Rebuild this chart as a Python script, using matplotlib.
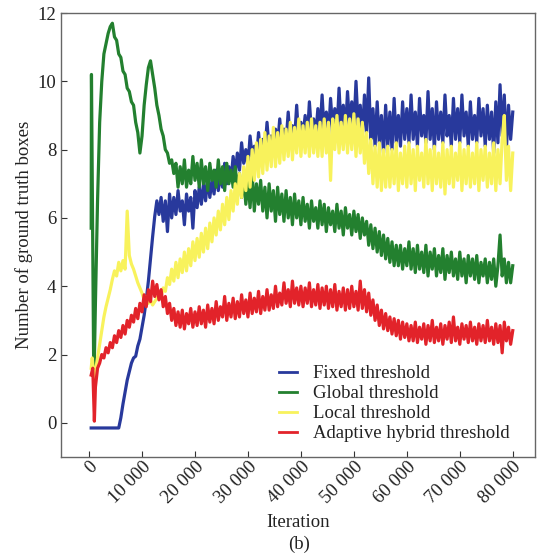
import matplotlib
matplotlib.use("Agg")
import matplotlib.pyplot as plt

# ---------------- data ----------------
grid = list(range(400, 80001, 400))  # iterations, 200 samples

series_names = ["Fixed threshold", "Global threshold", "Local threshold",
                "Adaptive hybrid threshold"]
series_colors = ["#28399c", "#23802f", "#f8f25c", "#e2232a"]

fixed_vals = [
    -0.15, -0.15, -0.15, -0.15, -0.15, -0.15, -0.15, -0.15, -0.15, -0.15,
    -0.15, -0.15, -0.15, -0.15, 0.15, 0.55, 0.9, 1.25, 1.5, 1.75,
    1.9, 1.95, 2.25, 2.45, 2.8, 3.15, 3.6, 4.15, 4.8, 5.45,
    6.05, 6.5, 6.1, 6.6, 5.9, 6.5, 5.6, 6.7, 6.0, 6.6,
    6.1, 6.8, 6.2, 6.5, 5.8, 6.7, 6.2, 6.6, 5.7, 6.8,
    6.3, 6.9, 6.4, 7.0, 6.5, 7.2, 6.6, 7.1, 6.7, 7.4,
    6.8, 7.3, 6.9, 7.6, 7.0, 7.5, 7.1, 7.8, 7.3, 7.9,
    7.4, 8.2, 7.6, 8.0, 7.5, 8.4, 7.8, 8.1, 7.7, 8.5,
    7.8, 8.3, 7.9, 8.8, 8.0, 8.4, 7.9, 8.6, 8.1, 8.9,
    8.1, 8.6, 8.2, 9.1, 8.2, 8.7, 8.3, 9.3, 8.2, 8.8,
    8.4, 9.0, 8.3, 9.4, 8.5, 8.9, 8.4, 9.2, 8.5, 9.6,
    8.5, 9.1, 8.4, 9.5, 8.6, 9.2, 8.5, 9.8, 8.6, 9.3,
    8.5, 9.7, 8.7, 9.4, 8.6, 10.0, 8.7, 9.3, 8.4, 9.6,
    8.5, 10.1, 8.3, 9.2, 8.1, 9.4, 8.2, 9.0, 7.9, 9.3,
    8.1, 9.1, 8.0, 9.5, 8.2, 9.0, 8.1, 9.4, 8.3, 9.2,
    8.2, 9.6, 8.3, 9.1, 8.1, 9.5, 8.4, 9.0, 8.2, 9.7,
    8.3, 9.2, 8.0, 9.4, 8.3, 9.1, 8.2, 9.6, 8.4, 9.0,
    8.1, 9.5, 8.3, 9.2, 8.2, 9.6, 8.4, 9.1, 8.1, 9.4,
    8.3, 9.0, 8.2, 9.5, 8.4, 9.2, 8.1, 9.3, 8.3, 9.1,
    7.9, 9.4, 8.2, 9.9, 8.4, 9.6, 8.0, 9.3, 8.3, 9.1,
]

global_head_x = [400, 450, 900]
global_head_y = [5.7, 10.2, 1.0]
global_vals = [
    3.5, 6.5, 8.8, 10.0, 10.8, 11.1, 11.4, 11.6,
    11.7, 11.3, 11.2, 10.8, 10.7, 10.3, 10.2, 9.8, 9.7, 9.4,
    9.3, 8.8, 8.5, 7.9, 8.4, 9.3, 9.9, 10.4, 10.6, 10.2,
    9.8, 9.3, 9.0, 8.6, 8.4, 8.0, 7.9, 7.6, 7.7, 7.3,
    7.6, 6.9, 7.5, 7.0, 7.7, 6.9, 7.4, 7.0, 7.8, 7.1,
    7.6, 6.9, 7.7, 7.0, 7.5, 6.8, 7.6, 7.1, 7.4, 6.9,
    7.7, 7.0, 7.5, 6.8, 7.6, 7.0, 7.4, 6.9, 7.5, 6.8,
    7.3, 6.6, 7.2, 6.4, 7.1, 6.3, 7.3, 6.2, 7.0, 6.4,
    7.1, 6.2, 6.9, 6.0, 7.0, 6.2, 6.8, 5.9, 6.9, 6.1,
    6.7, 5.9, 6.8, 6.0, 6.6, 5.8, 6.7, 6.0, 6.5, 5.8,
    6.6, 5.9, 6.4, 5.7, 6.5, 5.9, 6.3, 5.7, 6.5, 5.8,
    6.4, 5.6, 6.3, 5.8, 6.2, 5.6, 6.4, 5.7, 6.2, 5.5,
    6.3, 5.7, 6.1, 5.5, 6.2, 5.6, 6.1, 5.4, 6.0, 5.5,
    5.9, 5.2, 5.8, 5.1, 5.7, 5.0, 5.6, 4.9, 5.5, 4.8,
    5.4, 4.7, 5.3, 4.6, 5.2, 4.6, 5.2, 4.5, 5.1, 4.6,
    5.3, 4.5, 5.1, 4.4, 5.2, 4.5, 5.0, 4.4, 5.2, 4.3,
    5.0, 4.5, 5.1, 4.3, 4.9, 4.4, 5.1, 4.2, 4.9, 4.4,
    5.0, 4.3, 4.8, 4.2, 5.0, 4.3, 4.8, 4.1, 4.9, 4.3,
    4.8, 4.2, 4.9, 4.1, 4.7, 4.3, 4.8, 4.1, 4.7, 4.2,
    4.8, 4.0, 4.6, 5.5, 4.3, 4.8, 4.1, 4.7, 4.1, 4.6,
]

local_head_x = [400, 600, 1000]
local_head_y = [1.6, 1.9, 1.15]
local_vals = [
    1.5, 1.9, 2.3, 2.7, 3.1, 3.4, 3.65, 3.9,
    4.2, 4.45, 4.3, 4.7, 4.45, 4.75, 4.5, 6.2, 4.9, 4.65,
    4.5, 4.3, 4.1, 3.95, 3.8, 3.6, 3.7, 3.5, 3.6, 3.45,
    3.55, 3.65, 3.75, 3.7, 3.95, 3.85, 4.25, 4.05, 4.5, 4.15,
    4.7, 4.25, 4.8, 4.4, 5.0, 4.45, 5.1, 4.6, 5.3, 4.75,
    5.4, 4.85, 5.55, 5.0, 5.7, 5.1, 5.85, 5.3, 6.0, 5.5,
    6.2, 5.65, 6.4, 5.8, 6.6, 5.95, 6.8, 6.2, 7.0, 6.4,
    7.3, 6.6, 7.5, 6.8, 7.8, 6.9, 8.0, 7.1, 8.2, 7.2,
    8.3, 7.3, 8.5, 7.4, 8.4, 7.5, 8.65, 7.5, 8.5, 7.6,
    8.7, 7.7, 8.6, 7.8, 8.8, 7.7, 8.65, 7.9, 8.9, 7.8,
    8.7, 7.9, 8.8, 7.8, 8.9, 7.9, 8.7, 7.8, 8.8, 7.8,
    8.9, 7.9, 8.8, 7.1, 8.9, 8.0, 9.0, 7.9, 8.8, 8.0,
    9.0, 7.9, 8.9, 8.0, 9.05, 7.8, 8.9, 7.9, 8.8, 7.6,
    8.5, 7.3, 8.3, 7.0, 8.1, 6.9, 8.2, 6.8, 8.0, 6.9,
    8.1, 6.9, 8.0, 7.0, 8.2, 6.8, 7.9, 7.0, 8.1, 6.9,
    8.2, 7.0, 8.0, 6.8, 8.1, 7.1, 7.9, 6.9, 8.3, 7.0,
    8.0, 6.8, 8.1, 7.0, 7.9, 6.9, 8.2, 6.7, 8.0, 7.0,
    8.1, 6.9, 7.9, 7.1, 8.2, 6.8, 8.0, 7.0, 8.1, 6.9,
    7.9, 7.0, 8.2, 6.8, 8.0, 7.1, 8.1, 6.9, 7.9, 7.0,
    8.2, 6.8, 8.0, 7.0, 8.3, 9.0, 7.1, 8.1, 6.8, 7.9,
]

adaptive_head_x = [400, 700, 1000]
adaptive_head_y = [1.4, 1.6, 0.05]
adaptive_vals = [
    1.05, 1.6, 1.75, 2.0, 1.9, 2.2, 2.05, 2.35,
    2.2, 2.55, 2.35, 2.7, 2.5, 2.85, 2.6, 3.0, 2.8, 3.15,
    2.95, 3.35, 3.05, 3.5, 3.25, 3.75, 3.4, 3.9, 3.55, 4.15,
    3.7, 4.05, 3.6, 3.9, 3.4, 3.7, 3.2, 3.5, 3.0, 3.35,
    2.85, 3.25, 2.8, 3.3, 2.75, 3.2, 2.9, 3.35, 2.8, 3.25,
    2.85, 3.4, 2.9, 3.3, 2.8, 3.45, 2.95, 3.35, 2.9, 3.55,
    3.0, 3.4, 3.1, 3.7, 3.0, 3.5, 3.1, 3.65, 3.05, 3.55,
    3.1, 3.75, 3.2, 3.6, 3.1, 3.8, 3.2, 3.65, 3.25, 3.85,
    3.2, 3.7, 3.3, 3.9, 3.3, 3.75, 3.35, 4.0, 3.4, 3.8,
    3.45, 4.1, 3.5, 3.9, 3.4, 4.15, 3.5, 3.95, 3.45, 4.0,
    3.4, 3.95, 3.5, 4.1, 3.4, 3.9, 3.45, 4.05, 3.35, 3.95,
    3.45, 4.0, 3.35, 3.9, 3.4, 4.05, 3.3, 3.85, 3.4, 3.95,
    3.3, 3.9, 3.35, 4.0, 3.4, 3.85, 3.3, 4.15, 3.35, 3.9,
    3.25, 3.8, 3.15, 3.6, 3.0, 3.45, 2.85, 3.3, 2.75, 3.2,
    2.7, 3.1, 2.6, 3.05, 2.55, 3.0, 2.45, 2.95, 2.5, 2.9,
    2.4, 2.85, 2.4, 2.95, 2.35, 2.8, 2.45, 2.9, 2.3, 2.85,
    2.4, 3.0, 2.35, 2.8, 2.4, 2.9, 2.3, 2.85, 2.45, 2.95,
    2.35, 3.1, 2.4, 2.8, 2.3, 2.9, 2.45, 2.85, 2.35, 2.95,
    2.4, 2.8, 2.3, 2.9, 2.4, 2.85, 2.35, 3.0, 2.4, 2.8,
    2.3, 2.9, 2.35, 2.85, 2.05, 2.95, 2.4, 2.8, 2.3, 2.7,
]

x_ticks = [0, 10000, 20000, 30000, 40000, 50000, 60000, 70000, 80000]
x_tick_labels = ["0", "10 000", "20 000", "30 000", "40 000", "50 000",
                 "60 000", "70 000", "80 000"]
y_ticks = [0, 2, 4, 6, 8, 10, 12]

# ---------------- build series ----------------
fixed_x, fixed_y = grid, fixed_vals
global_x = global_head_x + grid[2:]
global_y = global_head_y + global_vals
local_x = local_head_x + grid[2:]
local_y = local_head_y + local_vals
adaptive_x = adaptive_head_x + grid[2:]
adaptive_y = adaptive_head_y + adaptive_vals

plt.rcParams['font.family'] = ['Liberation Serif', 'DejaVu Serif']
plt.rcParams['font.size'] = 13.5

fig = plt.figure(figsize=(5.4, 5.56), dpi=100)
ax = fig.add_axes([61 / 540, 1 - 457 / 556, (535 - 61) / 540, (457 - 13) / 556])

xs = [fixed_x, global_x, local_x, adaptive_x]
ys = [fixed_y, global_y, local_y, adaptive_y]
for x, y, name, c in zip(xs, ys, series_names, series_colors):
    ax.plot(x, y, color=c, lw=2.3, label=name)

ax.set_xlim(-5300, 84200)
ax.set_ylim(-1, 12)
ax.set_xticks(x_ticks)
ax.set_xticklabels(x_tick_labels, rotation=45, ha='right', va='top',
                   rotation_mode='anchor')
ax.set_yticks(y_ticks)
ax.tick_params(direction='in', length=4, width=0.8, colors='#333333',
               labelcolor='#222222', labelsize=13.5, top=False, right=False)
ax.tick_params(axis='x', pad=1)
for s in ax.spines.values():
    s.set_color('#666666')
    s.set_linewidth(1.0)

ax.set_xlabel("Iteration", fontsize=13.5, color='#222222', labelpad=5)
ax.set_ylabel("Number of ground truth boxes", fontsize=13.5, color='#222222',
              labelpad=3)

leg = ax.legend(loc='lower right', bbox_to_anchor=(0.975, 0.004), frameon=False,
                handlelength=1.0, handletextpad=0.85, labelspacing=0.15,
                fontsize=13.5, borderaxespad=0.3)
for t in leg.get_texts():
    t.set_color('#222222')
for h in leg.get_lines():
    h.set_linewidth(2.0)

fig.text(299 / 540, 1 - 544 / 556, "(b)", ha='center', va='center',
         fontsize=13.5, color='#222222')

fig.savefig("out.png", dpi=100)
